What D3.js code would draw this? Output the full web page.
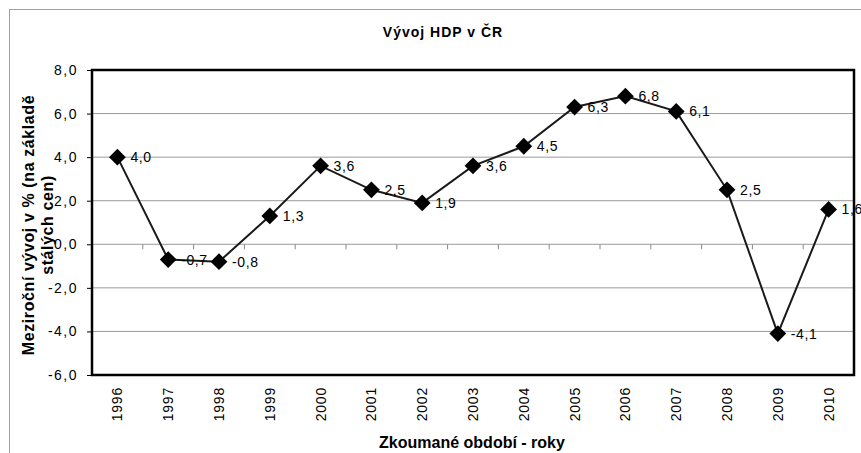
<!DOCTYPE html>
<html>
<head>
<meta charset="utf-8">
<script src="https://cdn.jsdelivr.net/npm/d3@7"></script>
<style>
  body { margin: 0; background: #fff; }
  text { font-family: "Liberation Sans", Arial, sans-serif; fill: #000; }
</style>
</head>
<body>
<div id="chart"></div>
<script>
'use strict';

var years = ['1996', '1997', '1998', '1999', '2000', '2001', '2002', '2003',
    '2004', '2005', '2006', '2007', '2008', '2009', '2010'];
var growth = [4.0, -0.7, -0.8, 1.3, 3.6, 2.5, 1.9, 3.6, 4.5, 6.3, 6.8, 6.1, 2.5, -4.1, 1.6];
var yTicks = [-6, -4, -2, 0, 2, 4, 6, 8];

var width = 861, height = 453;
var margin = {top: 70, right: 7, bottom: 78, left: 92};
var fmt = function (v) {
    return d3.format('.1f')(v).replace('.', ',').replace('\u2212', '-');
};

var svg = d3.select('#chart').append('svg')
    .attr('width', width)
    .attr('height', height);

// outer chart frame
svg.append('rect')
    .attr('x', 9.5).attr('y', 9.5)
    .attr('width', 900).attr('height', 500)
    .attr('fill', 'none')
    .attr('stroke', '#a0a0a0');

var x = d3.scaleBand()
    .domain(years)
    .range([margin.left, width - margin.right]);

var y = d3.scaleLinear()
    .domain([-6, 8])
    .range([height - margin.bottom, margin.top]);

// gridlines
svg.append('g')
    .selectAll('line')
    .data(yTicks.filter(function (d) { return d !== -6 && d !== 8; }))
    .enter().append('line')
    .attr('x1', margin.left).attr('x2', width - margin.right)
    .attr('y1', function (d) { return y(d); })
    .attr('y2', function (d) { return y(d); })
    .attr('stroke', '#9a9a9a')
    .attr('stroke-width', 1);

// y axis
var yAxis = svg.append('g')
    .attr('transform', 'translate(' + margin.left + ',0)')
    .call(d3.axisLeft(y).tickValues(yTicks).tickFormat(fmt).tickSize(5).tickPadding(9));
yAxis.select('.domain').remove();
yAxis.selectAll('line').attr('stroke', '#000');
yAxis.selectAll('text')
    .style('font-family', '"Liberation Sans", Arial, sans-serif')
    .style('font-size', '14px')
    .style('letter-spacing', '1.5px');

// x axis crossing at zero, ticks at category boundaries
var boundaries = years.slice(1).map(function (d) { return x(d); });
svg.append('g')
    .selectAll('line')
    .data(boundaries)
    .enter().append('line')
    .attr('x1', function (d) { return d; })
    .attr('x2', function (d) { return d; })
    .attr('y1', y(0)).attr('y2', y(0) + 5)
    .attr('stroke', '#888');

// x labels (rotated)
svg.append('g')
    .selectAll('text')
    .data(years)
    .enter().append('text')
    .attr('transform', function (d) {
        return 'translate(' + (x(d) + x.bandwidth() / 2 + 5) + ',' + (height - margin.bottom + 12) + ') rotate(-90)';
    })
    .attr('text-anchor', 'end')
    .style('font-size', '14px')
    .style('letter-spacing', '0.8px')
    .text(function (d) { return d; });

// line
var line = d3.line()
    .x(function (d, i) { return x(years[i]) + x.bandwidth() / 2; })
    .y(function (d) { return y(d); });

svg.append('path')
    .datum(growth)
    .attr('d', line)
    .attr('fill', 'none')
    .attr('stroke', '#1a1a1a')
    .attr('stroke-width', 2);

// diamond markers
svg.append('g')
    .selectAll('path')
    .data(growth)
    .enter().append('path')
    .attr('d', d3.symbol().type(d3.symbolDiamond2).size(180))
    .attr('transform', function (d, i) {
        return 'translate(' + (x(years[i]) + x.bandwidth() / 2) + ',' + y(d) + ')';
    })
    .attr('fill', '#000');

// value labels
svg.append('g')
    .selectAll('text')
    .data(growth)
    .enter().append('text')
    .attr('x', function (d, i) { return x(years[i]) + x.bandwidth() / 2 + 13; })
    .attr('y', function (d) { return y(d); })
    .attr('dy', '0.36em')
    .style('font-size', '14px')
    .style('letter-spacing', '0.6px')
    .text(fmt);

// plot border
svg.append('rect')
    .attr('x', margin.left).attr('y', margin.top)
    .attr('width', width - margin.left - margin.right)
    .attr('height', height - margin.top - margin.bottom)
    .attr('fill', 'none')
    .attr('stroke', '#000')
    .attr('stroke-width', 2.5);

// titles
svg.append('text')
    .attr('x', 443).attr('y', 37)
    .attr('text-anchor', 'middle')
    .style('font-size', '14px')
    .style('font-weight', 'bold')
    .style('letter-spacing', '1px')
    .text('Vývoj HDP v ČR');

svg.append('text')
    .attr('x', 472).attr('y', 448)
    .attr('text-anchor', 'middle')
    .style('font-size', '16px')
    .style('font-weight', 'bold')
    .text('Zkoumané období - roky');

var yTitle = svg.append('text')
    .attr('transform', 'translate(33.5,225) rotate(-90)')
    .attr('text-anchor', 'middle')
    .style('font-size', '16px')
    .style('font-weight', 'bold')
    .style('letter-spacing', '0.6px');
yTitle.append('tspan').attr('x', 0).attr('dy', 0).text('Meziroční vývoj v % (na základě');
yTitle.append('tspan').attr('x', 0).attr('dy', '1.2em').text('stálých cen)');
</script>
</body>
</html>
